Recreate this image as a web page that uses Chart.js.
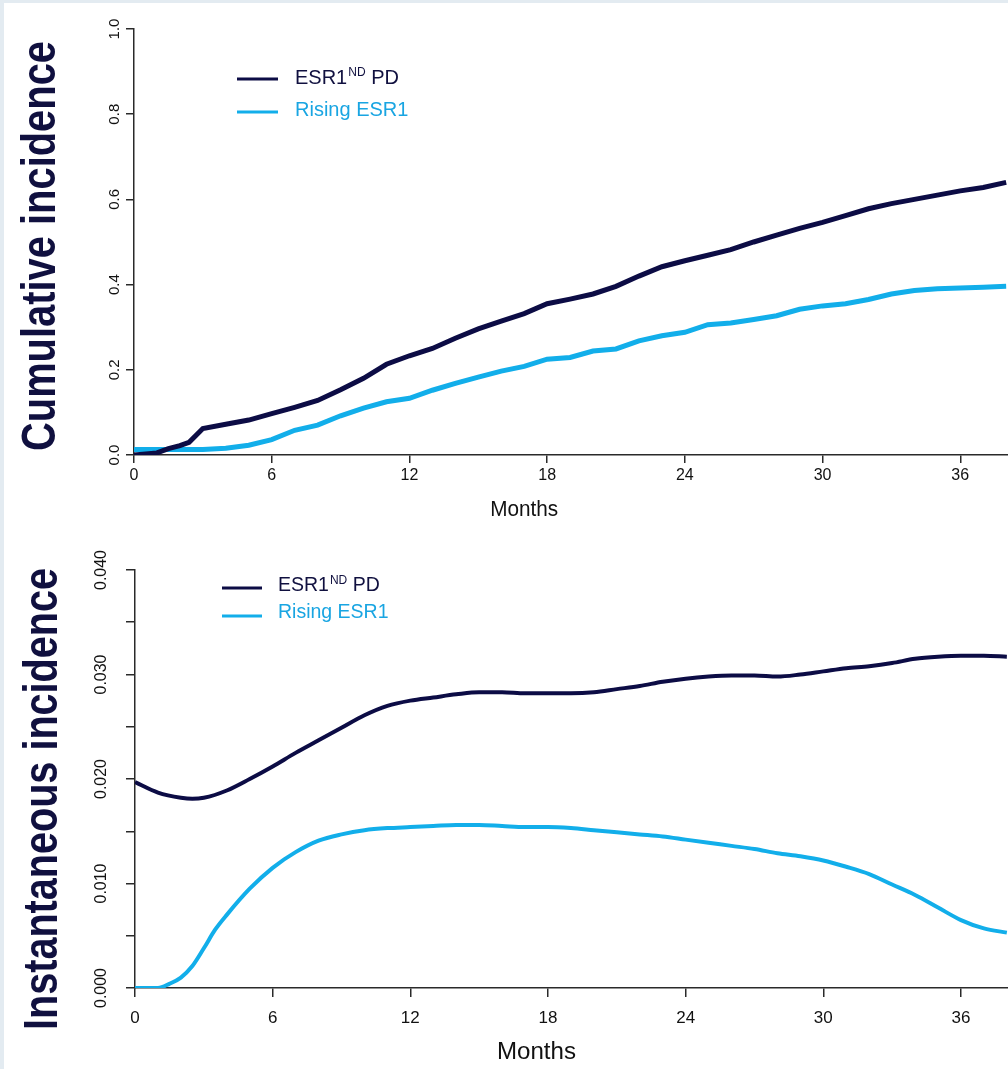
<!DOCTYPE html>
<html><head><meta charset="utf-8">
<script src="https://cdn.jsdelivr.net/npm/chart.js@4.4.1/dist/chart.umd.min.js"></script>
<style>
html,body{margin:0;padding:0;background:#e3ebf1;width:1008px;height:1069px;overflow:hidden}
#panel{position:absolute;left:4px;top:3px;width:1004px;height:1066px;background:#fff}
canvas{position:absolute;left:0}
#c1{top:0}
#c2{top:530px}
</style></head><body>
<div id="panel"></div>
<canvas id="c1" width="1008" height="530"></canvas>
<canvas id="c2" width="1008" height="539"></canvas>
<script>
// ---- data ----
const seriesNames = ['ESR1ND PD', 'Rising ESR1'];
const legendParts = [['ESR1', 'ND', ' PD'], ['Rising ESR1', '', '']];
const xTicks = [0, 6, 12, 18, 24, 30, 36];
const xLabel = 'Months';

const cumTitle = 'Cumulative incidence';
const cumYTicks = [0, 0.2, 0.4, 0.6, 0.8, 1.0];
const cumYLabels = ['0.0', '0.2', '0.4', '0.6', '0.8', '1.0'];
const cumMonthsDark = [0,1,1.5,2,2.4,3,4,5,6,7,8,9,10,11,12,13,14,15,16,17,18,19,20,21,22,23,24,25,26,27,28,29,30,31,32,33,34,35,36,37,38];
const cumDark = [0,0.005,0.015,0.022,0.03,0.062,0.072,0.082,0.097,0.112,0.128,0.153,0.18,0.213,0.233,0.25,0.274,0.296,0.314,0.332,0.355,0.366,0.378,0.396,0.42,0.442,0.456,0.469,0.482,0.5,0.516,0.532,0.546,0.562,0.578,0.59,0.6,0.61,0.62,0.628,0.64];
const cumMonthsLight = [0,1,2,3,4,5,6,7,8,9,10,11,12,13,14,15,16,17,18,19,20,21,22,23,24,25,26,27,28,29,30,31,32,33,34,35,36,37,38];
const cumLight = [0.013,0.013,0.013,0.013,0.016,0.023,0.036,0.058,0.07,0.092,0.11,0.125,0.133,0.152,0.168,0.183,0.197,0.208,0.225,0.229,0.244,0.249,0.268,0.28,0.288,0.306,0.31,0.318,0.327,0.342,0.35,0.355,0.365,0.378,0.386,0.39,0.392,0.394,0.396];

const instTitle = 'Instantaneous incidence';
const instYTicks = [0, 0.005, 0.01, 0.015, 0.02, 0.025, 0.03, 0.035, 0.04];
const instYLabels = ['0.000', '', '0.010', '', '0.020', '', '0.030', '', '0.040'];
const instMonthsDark = [0,1,2,2.5,3,4,5,6,7,8,9,10,11,12,13,14,15,16,17,18,19,20,21,22,23,24,25,26,27,28,29,30,31,32,33,34,35,36,37,38];
const instDark = [0.0197,0.0187,0.0182,0.0181,0.0182,0.0189,0.02,0.0212,0.0225,0.0237,0.0249,0.0261,0.027,0.0275,0.0278,0.0281,0.0283,0.0283,0.0282,0.0282,0.0282,0.0283,0.0286,0.0289,0.0293,0.0296,0.0298,0.0299,0.0299,0.0298,0.03,0.0303,0.0306,0.0308,0.0311,0.0315,0.0317,0.0318,0.0318,0.0317];
const instMonthsLight = [0,1,1.5,2,2.5,3,3.5,4,5,6,7,8,9,10,11,12,13,14,15,16,17,18,19,20,21,22,23,24,25,26,27,28,29,30,31,32,33,34,35,36,37,38];
const instLight = [0,0,0.0004,0.001,0.0021,0.0038,0.0056,0.007,0.0095,0.0115,0.013,0.0141,0.0147,0.0151,0.0153,0.0154,0.0155,0.0156,0.0156,0.0155,0.0154,0.0154,0.0153,0.0151,0.0149,0.0147,0.0145,0.0142,0.0139,0.0136,0.0133,0.0129,0.0126,0.0122,0.0116,0.0109,0.0099,0.0089,0.0077,0.0065,0.0057,0.0053];

// ---- styles ----
const DARK = '#0c0c45';
const BLUE = '#12aeea';
const DARK_TEXT = '#10103f';
const BLUE_TEXT = '#19a5e2';
const AXIS = '#2a2a2a';
const NARROW = "'Liberation Sans Narrow', 'Arial Narrow', 'Liberation Sans', sans-serif";
const SANS = "'Liberation Sans', Arial, sans-serif";

const pts = (xs, ys) => xs.map((x, i) => ({x, y: ys[i]}));

const deco = {
  id: 'deco',
  afterDraw(chart, args, o) {
    const ctx = chart.ctx, xs = chart.scales.x, ys = chart.scales.y;
    ctx.save();
    // y tick labels (rotated, R style)
    ctx.fillStyle = '#111';
    ctx.font = o.yFont;
    ctx.textAlign = 'center'; ctx.textBaseline = 'middle';
    o.yTicks.forEach((v, i) => {
      const lab = o.yLabels[i]; if (!lab) return;
      ctx.save();
      ctx.translate(o.yLabelX, ys.getPixelForValue(v));
      ctx.rotate(-Math.PI / 2);
      ctx.fillText(lab, 0, 0);
      ctx.restore();
    });
    // y title
    ctx.save();
    ctx.font = o.titleFont; ctx.fillStyle = DARK_TEXT;
    ctx.textAlign = 'center'; ctx.textBaseline = 'middle';
    ctx.translate(o.titleX, o.titleY); ctx.rotate(-Math.PI / 2);
    const w = ctx.measureText(o.title).width;
    ctx.scale(o.titleLen / w, 1);
    ctx.fillText(o.title, 0, 0);
    ctx.restore();
    // x title
    ctx.save();
    ctx.font = o.xTitleFont; ctx.fillStyle = '#111';
    ctx.textAlign = 'center'; ctx.textBaseline = 'middle';
    const wm = ctx.measureText(xLabel).width;
    ctx.translate(xs.getPixelForValue(o.xTitleAt), o.xTitleY);
    ctx.scale(o.xTitleLen / wm, 1);
    ctx.fillText(xLabel, 0, 0);
    ctx.restore();
    // legend
    chart.data.datasets.forEach((ds, i) => {
      const ly = o.legY[i];
      ctx.strokeStyle = ds.borderColor; ctx.lineWidth = 3;
      ctx.beginPath(); ctx.moveTo(o.legX1, o.legLineY[i]); ctx.lineTo(o.legX2, o.legLineY[i]); ctx.stroke();
      const parts = legendParts[i];
      ctx.fillStyle = i === 0 ? DARK_TEXT : BLUE_TEXT;
      ctx.textAlign = 'left'; ctx.textBaseline = 'middle';
      let x = o.legTX;
      ctx.font = o.legFont; ctx.fillText(parts[0], x, ly); x += ctx.measureText(parts[0]).width + 1;
      if (parts[1]) { ctx.font = o.legSupFont; ctx.fillText(parts[1], x, ly - 5); x += ctx.measureText(parts[1]).width; }
      if (parts[2]) { ctx.font = o.legFont; ctx.fillText(parts[2], x, ly); }
    });
    ctx.restore();
  }
};

function makeChart(id, c) {
  return new Chart(document.getElementById(id), {
    type: 'line',
    data: { datasets: [
      { label: seriesNames[0], data: pts(c.mx[0], c.vals[0]), borderColor: DARK, borderWidth: c.lw, pointRadius: 0, tension: c.tension, cubicInterpolationMode: c.cim, fill: false },
      { label: seriesNames[1], data: pts(c.mx[1], c.vals[1]), borderColor: BLUE, borderWidth: c.lw, pointRadius: 0, tension: c.tension, cubicInterpolationMode: c.cim, fill: false }
    ].reverse().reverse() },
    options: {
      responsive: false, animation: false, devicePixelRatio: 1,
      layout: { padding: { top: c.top, left: 0, right: 0, bottom: 0 } },
      plugins: { legend: { display: false }, tooltip: { enabled: false }, deco: c.deco },
      scales: {
        x: {
          type: 'linear', min: 0, max: c.xmax,
          afterBuildTicks: s => { s.ticks = xTicks.map(v => ({ value: v })); },
          afterFit: s => { s.height = c.xh; },
          grid: { display: true, drawOnChartArea: false, drawTicks: true, tickLength: c.tl, color: AXIS, lineWidth: 1.5 },
          border: { display: true, color: AXIS, width: 1.5 },
          ticks: { color: '#111', font: c.xFont, padding: c.xPad, maxRotation: 0, minRotation: 0, autoSkip: false, callback: v => String(v) }
        },
        y: {
          type: 'linear', min: 0, max: c.ymax,
          afterBuildTicks: s => { s.ticks = c.deco.yTicks.map(v => ({ value: v })); },
          afterFit: s => { s.width = c.left; },
          grid: { display: true, drawOnChartArea: false, drawTicks: true, tickLength: c.tl, color: AXIS, lineWidth: 1.5 },
          border: { display: true, color: AXIS, width: 1.5 },
          ticks: { display: false }
        }
      }
    },
    plugins: [deco]
  });
}

makeChart('c1', {
  mx: [cumMonthsDark, cumMonthsLight], vals: [cumDark, cumLight],
  lw: 5, tension: 0, cim: 'default',
  top: 29, xh: 75, left: 134, xmax: 38.08, ymax: 1.0, tl: 8,
  xFont: { family: NARROW, size: 16 }, xPad: 3,
  deco: {
    yTicks: cumYTicks, yLabels: cumYLabels, yFont: '15px ' + NARROW, yLabelX: 115,
    title: cumTitle, titleFont: 'bold 48px ' + SANS, titleX: 42, titleY: 246, titleLen: 410,
    xTitleFont: '22px ' + NARROW, xTitleAt: 17, xTitleY: 510, xTitleLen: 68,
    legX1: 237, legX2: 278, legLineY: [79, 112], legTX: 295, legY: [78, 110],
    legFont: '20px ' + SANS, legSupFont: '12px ' + SANS
  }
});

makeChart('c2', {
  mx: [instMonthsDark, instMonthsLight], vals: [instDark, instLight],
  lw: 4, tension: 0.4, cim: 'monotone',
  top: 40, xh: 81, left: 135, xmax: 38.05, ymax: 0.04, tl: 9,
  xFont: { family: SANS, size: 17 }, xPad: 11,
  deco: {
    yTicks: instYTicks, yLabels: instYLabels, yFont: '16px ' + SANS, yLabelX: 102,
    title: instTitle, titleFont: 'bold 48px ' + SANS, titleX: 44, titleY: 269, titleLen: 462,
    xTitleFont: '23px ' + SANS, xTitleAt: 17.5, xTitleY: 523, xTitleLen: 79,
    legX1: 222, legX2: 262, legLineY: [58, 86], legTX: 278, legY: [56, 83],
    legFont: '19.5px ' + SANS, legSupFont: '12px ' + SANS
  }
});
</script>
</body></html>
